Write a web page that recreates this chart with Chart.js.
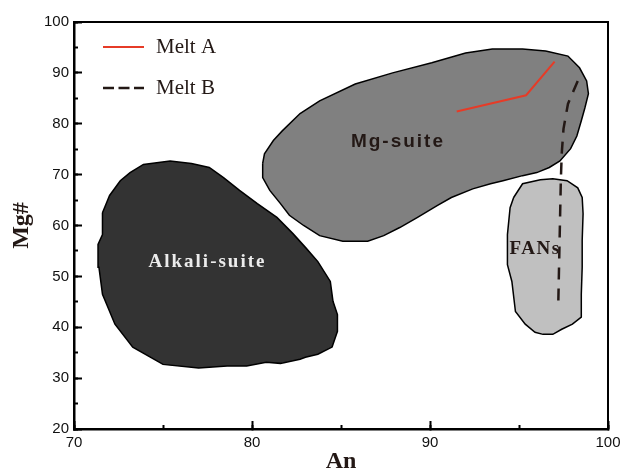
<!DOCTYPE html>
<html>
<head>
<meta charset="utf-8">
<script src="https://cdn.jsdelivr.net/npm/chart.js@4/dist/chart.umd.min.js"></script>
<style>
html, body { margin: 0; padding: 0; background: #fff; }
#wrap { width: 625px; height: 474px; }
</style>
</head>
<body>
<div id="wrap"><canvas id="mycanvas"></canvas></div>
<script>
// melt trends (An, Mg#)
var meltA_An = [91.5, 95.4, 97.0];
var meltA_Mg = [82.4, 85.6, 92.2];
var meltB_An = [98.3, 97.75, 97.5, 97.4, 97.35, 97.2];
var meltB_Mg = [88.4, 83.9, 79.0, 74.1, 68.8, 43.5];

// field outlines, traced clockwise
var alkaliAn = [71.6, 72.0, 72.6, 73.15, 73.9, 75.4, 76.6, 77.6, 78.4, 79.3, 80.3, 81.4, 82.3, 83.0, 83.7, 84.4,
	84.55, 84.8, 84.8, 84.5, 83.7, 83.0, 82.7, 81.6, 80.8, 79.7, 78.6, 77.0, 75.0, 73.3, 72.3, 71.6, 71.4, 71.35, 71.6, 71.6];
var alkaliMg = [62.5, 65.9, 68.8, 70.4, 72.0, 72.7, 72.2, 71.4, 69.4, 66.9, 64.3, 61.6, 58.4, 55.7, 52.9, 49.0,
	45.1, 42.5, 39.2, 36.1, 34.7, 34.1, 33.7, 32.9, 33.1, 32.4, 32.4, 32.0, 32.7, 36.1, 40.6, 46.5, 51.8, 56.3, 58.2, 62.5];

var mgAn = [80.6, 80.7, 81.2, 81.7, 82.7, 83.8, 85.8, 87.9, 90.1, 92.0, 93.5, 95.2, 96.5, 97.75, 98.4, 98.8, 98.9,
	98.7, 98.5, 98.25, 97.9, 97.3, 96.7, 96.0, 95.2, 94.1, 93.4, 92.4, 91.2, 90.4, 89.3, 88.3, 87.4, 86.5, 85.1,
	83.8, 82.9, 82.1, 81.6, 81.0, 80.6, 80.6];
var mgMg = [72.2, 74.1, 76.7, 78.6, 82.0, 84.5, 87.8, 90.0, 92.0, 93.9, 94.7, 94.7, 94.3, 93.3, 91.0, 88.4, 85.9,
	83.1, 80.6, 77.6, 75.1, 72.7, 71.4, 70.4, 69.8, 68.8, 68.2, 67.2, 65.5, 63.9, 61.6, 59.6, 58.0, 56.9, 56.9,
	58.0, 60.0, 62.0, 64.3, 66.9, 69.4, 72.2];

var fansAn = [94.7, 95.2, 96.2, 96.9, 97.7, 98.3, 98.55, 98.6, 98.55, 98.55, 98.5, 98.5, 98.0, 97.4, 96.9, 96.35,
	95.9, 95.35, 94.8, 94.6, 94.35, 94.35, 94.5, 94.7];
var fansMg = [65.5, 68.2, 69.0, 69.2, 68.8, 67.4, 65.5, 62.3, 57.1, 51.8, 46.5, 42.0, 40.6, 39.6, 38.6, 38.6,
	39.0, 40.6, 43.1, 49.0, 52.3, 58.2, 63.5, 65.5];

// field names and where they sit (An, Mg#)
var regionNames = ['Alkali-suite', 'Mg-suite', 'FANs'];
var labelAn = [77.5, 88.2, 95.9];
var labelMg = [52.8, 76.4, 55.4];

var ink = '#231815';
var serif = '"Liberation Serif", "Times New Roman", serif';
var sans = '"Liberation Sans", Arial, sans-serif';

function toPts(xs, ys) {
	var out = [];
	for (var i in xs) {
		out.push({x: xs[i], y: ys[i]});
	}
	return out;
}

var labelStyles = [
	{font: 'bold 19px ' + serif, color: '#ececec', spacing: '2px'},
	{font: 'bold 19px ' + sans, color: ink, spacing: '2px'},
	{font: 'bold 19px ' + serif, color: ink, spacing: '1.5px'}
];

var regionLabels = {
	id: 'regionLabels',
	afterDatasetsDraw: function(chart) {
		var c = chart.ctx, xs = chart.scales.x, ys = chart.scales.y;
		c.save();
		c.textAlign = 'center';
		c.textBaseline = 'middle';
		for (var i = 0; i < regionNames.length; i++) {
			c.font = labelStyles[i].font;
			c.fillStyle = labelStyles[i].color;
			c.letterSpacing = labelStyles[i].spacing;
			c.fillText(regionNames[i], xs.getPixelForValue(labelAn[i]), ys.getPixelForValue(labelMg[i]));
		}
		c.restore();
	}
};

// legend sits inside the frame, top left
var insideLegend = {
	id: 'insideLegend',
	afterDraw: function(chart) {
		var c = chart.ctx, a = chart.chartArea;
		c.save();
		c.font = '21px ' + serif;
		c.textBaseline = 'middle';
		for (var i = 0; i < 2; i++) {
			var ds = chart.data.datasets[i];
			var y = a.top + 25 + i * 41;
			c.beginPath();
			c.strokeStyle = ds.borderColor;
			c.lineWidth = ds.borderWidth;
			c.setLineDash(ds.borderDash ? [11, 4.5] : []);
			c.moveTo(a.left + 29, y);
			c.lineTo(a.left + 70, y);
			c.stroke();
			c.fillStyle = ink;
			c.fillText(ds.label, a.left + 82, y);
		}
		c.restore();
	}
};

var tickFont = {family: sans, size: 15};

// short minor ticks, drawn by a second axis with no labels
function minorAxis(pos, min, max) {
	return {
		type: 'linear',
		position: pos,
		weight: 0,
		min: min,
		max: max,
		afterFit: function(s) {
			if (s.isHorizontal()) { s.height = 0; } else { s.width = 0; }
		},
		ticks: {display: false, stepSize: 5, autoSkip: false},
		grid: {drawOnChartArea: false, tickLength: -4, tickWidth: 2, tickColor: '#000'},
		border: {display: false}
	};
}

var ctx = document.getElementById('mycanvas');

var plot = new Chart(ctx, {
	type: 'scatter',
	data: {
		datasets: [
			{
				label: 'Melt A',
				data: toPts(meltA_An, meltA_Mg),
				showLine: true,
				borderColor: '#e63b27',
				borderWidth: 2,
				pointRadius: 0,
				fill: false
			},
			{
				label: 'Melt B',
				data: toPts(meltB_An, meltB_Mg),
				showLine: true,
				borderColor: ink,
				borderWidth: 2.5,
				borderDash: [12, 9],
				pointRadius: 0,
				fill: false
			},
			{
				label: 'FANs',
				data: toPts(fansAn, fansMg),
				showLine: true,
				borderColor: '#000',
				borderWidth: 1.5,
				backgroundColor: '#c0c0c0',
				pointRadius: 0,
				fill: 'shape'
			},
			{
				label: 'Mg-suite',
				data: toPts(mgAn, mgMg),
				showLine: true,
				borderColor: '#000',
				borderWidth: 1.5,
				backgroundColor: '#808080',
				pointRadius: 0,
				fill: 'shape'
			},
			{
				label: 'Alkali-suite',
				data: toPts(alkaliAn, alkaliMg),
				showLine: true,
				borderColor: '#000',
				borderWidth: 1.5,
				backgroundColor: '#333333',
				pointRadius: 0,
				fill: 'shape'
			}
		]
	},
	options: {
		animation: false,
		responsive: true,
		maintainAspectRatio: false,
		events: [],
		layout: {padding: {left: 0, top: 22, right: 17, bottom: 0}},
		plugins: {
			legend: {display: false},
			tooltip: {enabled: false}
		},
		scales: {
			x: {
				type: 'linear',
				position: 'bottom',
				weight: 1,
				min: 70,
				max: 100,
				afterFit: function(s) {
					s.height = 45;
					s.paddingLeft = 0;
					s.paddingRight = 0;
				},
				ticks: {
					stepSize: 10,
					maxRotation: 0,
					padding: 13,
					color: '#111',
					font: tickFont
				},
				grid: {drawOnChartArea: false, tickLength: -8, tickWidth: 2, tickColor: '#000'},
				border: {color: '#000', width: 2.5},
				title: {
					display: true,
					text: 'An',
					color: ink,
					padding: {top: 0, bottom: 0},
					font: {family: serif, size: 24, weight: 'bold', lineHeight: 1}
				}
			},
			y: {
				type: 'linear',
				position: 'left',
				weight: 1,
				min: 20,
				max: 100,
				afterFit: function(s) {
					s.width = 74;
					s.paddingTop = 0;
					s.paddingBottom = 0;
				},
				ticks: {
					stepSize: 10,
					padding: 13,
					color: '#111',
					font: tickFont
				},
				grid: {drawOnChartArea: false, tickLength: -8, tickWidth: 2, tickColor: '#000'},
				border: {color: '#000', width: 2.5},
				title: {
					display: true,
					text: 'Mg#',
					color: ink,
					padding: {top: 10, bottom: 0},
					font: {family: serif, size: 24, weight: 'bold', lineHeight: 1}
				}
			},
			xMinor: minorAxis('bottom', 70, 100),
			yMinor: minorAxis('left', 20, 100),
			x2: {
				type: 'linear',
				position: 'top',
				min: 70,
				max: 100,
				ticks: {display: false},
				grid: {display: false, drawTicks: false},
				border: {color: '#000', width: 2}
			},
			y2: {
				type: 'linear',
				position: 'right',
				min: 20,
				max: 100,
				ticks: {display: false},
				grid: {display: false, drawTicks: false},
				border: {color: '#000', width: 2}
			}
		}
	},
	plugins: [regionLabels, insideLegend]
});
</script>
</body>
</html>
